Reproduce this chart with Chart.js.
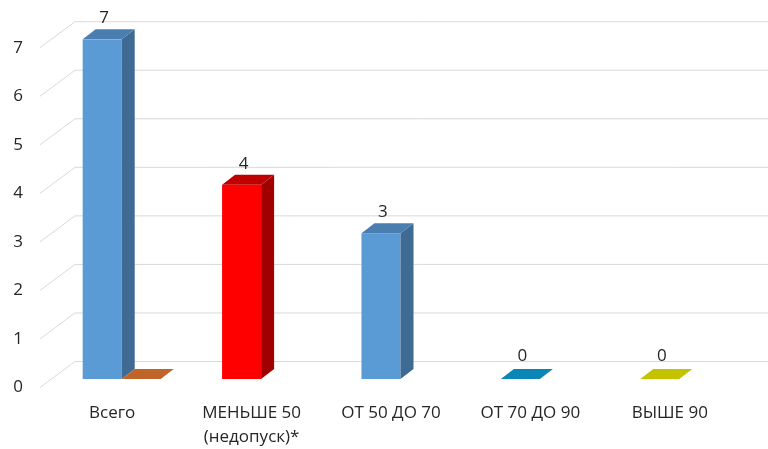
<!DOCTYPE html>
<html>
<head>
<meta charset="utf-8">
<script src="https://cdn.jsdelivr.net/npm/chart.js@4.4.1/dist/chart.umd.min.js"></script>
<style>
  html, body { margin: 0; padding: 0; background: #fff; }
  #wrap { width: 768px; height: 449px; }
</style>
</head>
<body>
<div id="wrap"><canvas id="chart"></canvas></div>
<script>
/* ── DATA ── */
const categories = ['Всего', ['МЕНЬШЕ 50', '(недопуск)*'], 'ОТ 50 ДО 70', 'ОТ 70 ДО 90', 'ВЫШЕ 90'];
const mainValues = [7, 4, 3, 0, 0];
const extraValues = [0, null, null, null, null];
const yTicks = [0, 1, 2, 3, 4, 5, 6, 7];

/* ── COLOURS (front / side / top) ── */
const mainFront = ['#5B9BD5', '#FF0000', '#5B9BD5', '#0E9BD0', '#DADA00'];
const mainSide  = ['#3E6A93', '#A00000', '#3E6A93', '#0A6E96', '#9E9E00'];
const mainTop   = ['#4A7EB1', '#C00000', '#4A7EB1', '#0A86B6', '#C3C300'];
const extraFront = ['#ED7D31'];
const extraSide  = ['#A8561F'];
const extraTop   = ['#C0652A'];

const FONT = { family: 'Open Sans', size: 17 };
const TEXT = '#262626';
const GRID = '#D9D9D9';

const DEPTH_X = 13, DEPTH_Y = 10;

/* ── 3D helpers ── */
const threeD = {
  id: 'threeD',
  beforeDatasetsDraw(chart) {
    const { ctx, chartArea, scales: { y } } = chart;
    ctx.save();
    ctx.strokeStyle = GRID;
    ctx.lineWidth = 1;
    yTicks.forEach(v => {
      const py = y.getPixelForValue(v);
      ctx.beginPath();
      ctx.moveTo(chartArea.left - 12, py + 8.5);
      ctx.lineTo(chartArea.left + 23, py - 17.5);
      ctx.lineTo(chart.width, py - 17.5);
      ctx.stroke();
    });
    ctx.restore();
  },
  afterDatasetsDraw(chart) {
    const { ctx } = chart;
    const sets = [
      { side: mainSide, top: mainTop },
      { side: extraSide, top: extraTop },
    ];
    ctx.save();
    chart.data.datasets.forEach((ds, di) => {
      const meta = chart.getDatasetMeta(di);
      meta.data.forEach((bar, i) => {
        if (ds.data[i] === null || ds.data[i] === undefined) return;
        const { x, y, base, width } = bar.getProps(['x', 'y', 'base', 'width'], true);
        const l = x - width / 2, r = x + width / 2;
        // side face
        if (base - y > 0.5) {
          ctx.fillStyle = sets[di].side[i % sets[di].side.length];
          ctx.beginPath();
          ctx.moveTo(r, y);
          ctx.lineTo(r + DEPTH_X, y - DEPTH_Y);
          ctx.lineTo(r + DEPTH_X, base - DEPTH_Y);
          ctx.lineTo(r, base);
          ctx.closePath();
          ctx.fill();
        }
        // top face
        ctx.fillStyle = sets[di].top[i % sets[di].top.length];
        ctx.beginPath();
        ctx.moveTo(l, y);
        ctx.lineTo(l + DEPTH_X, y - DEPTH_Y);
        ctx.lineTo(r + DEPTH_X, y - DEPTH_Y);
        ctx.lineTo(r, y);
        ctx.closePath();
        ctx.fill();
      });
    });

    // value labels for the main series
    const meta = chart.getDatasetMeta(0);
    ctx.fillStyle = TEXT;
    ctx.font = `${FONT.size}px ${FONT.family}`;
    ctx.textAlign = 'center';
    ctx.textBaseline = 'middle';
    meta.data.forEach((bar, i) => {
      const { x, y } = bar.getProps(['x', 'y'], true);
      ctx.fillText(String(mainValues[i]), x + 2, y - (mainValues[i] === 0 ? 23 : 21));
    });
    ctx.restore();
  }
};

new Chart(document.getElementById('chart'), {
  type: 'bar',
  data: {
    labels: categories,
    datasets: [
      { data: mainValues, backgroundColor: mainFront, borderWidth: 0 },
      { data: extraValues, backgroundColor: extraFront, borderWidth: 0 },
    ],
  },
  options: {
    responsive: true, maintainAspectRatio: false, animation: false,
    layout: { padding: { top: 39, right: 19, left: 0, bottom: 0 } },
    categoryPercentage: 0.56, barPercentage: 1,
    plugins: { legend: { display: false }, tooltip: { enabled: false } },
    scales: {
      x: {
        grid: { display: false, drawTicks: false }, border: { display: false },
        ticks: { font: { ...FONT, lineHeight: 1.4 }, color: TEXT, padding: 22, labelOffset: -9.5, maxRotation: 0, autoSkip: false },
        afterFit: s => { s.height = 70; },
      },
      y: {
        min: 0, max: 7,
        grid: { display: false, drawTicks: false }, border: { display: false },
        ticks: { stepSize: 1, font: FONT, color: TEXT, padding: 29, labelOffset: 8.5 },
        afterFit: s => { s.width = 52; },
      },
    },
  },
  plugins: [threeD],
});
</script>
</body>
</html>
